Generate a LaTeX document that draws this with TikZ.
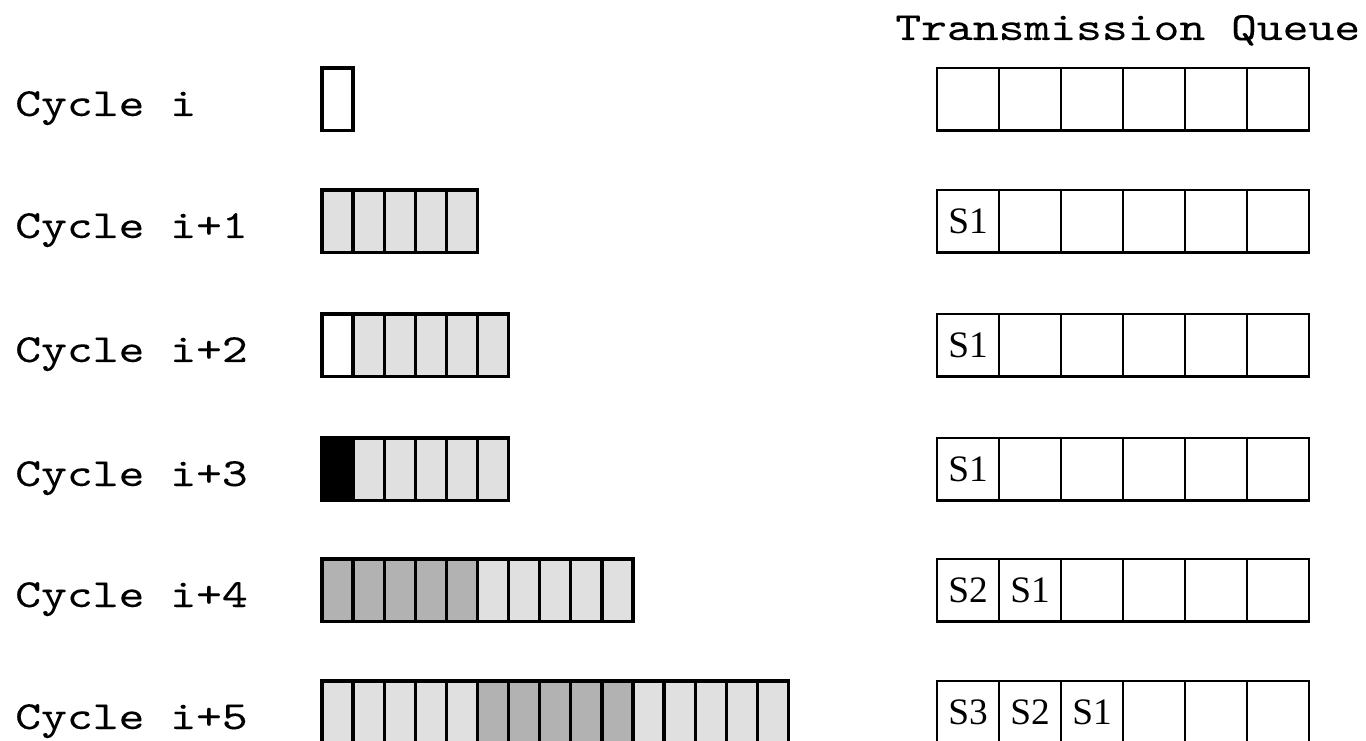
\documentclass[tikz,border=0pt]{standalone}
\usepackage{fontspec}
\setmainfont{Liberation Serif}
\newfontfamily\cyclefont{lmmono10-regular.otf}[FakeStretch=1.23,FakeBold=0.1]
\definecolor{lt}{gray}{0.88}
\definecolor{dk}{gray}{0.70}
\begin{document}
\begin{tikzpicture}[x=0.75pt,y=-0.75pt,
  slot/.style={inner sep=0pt, outer sep=0pt,
    anchor=north west, minimum width=23.3pt, minimum height=47pt},
  slotedge/.style={line width=2.4pt},
  qslot/.style={inner sep=0pt, outer sep=0pt,
    anchor=north west, minimum width=46.5pt, minimum height=47pt},
  qedge/.style={line width=1.9pt},
  rowlabel/.style={font=\cyclefont\fontsize{30}{30}\selectfont, anchor=base west, inner sep=0pt},
  qlabel/.style={font=\fontsize{28}{28}\selectfont, inner sep=0pt}]
  \useasboundingbox (0,0) rectangle (1366,741);
  \clip (0,0) rectangle (1366,741);

  % header above the queues
  \node[rowlabel] (title) at (895,40) {Transmission Queue};

  % one row per cycle: label, slot buffer and transmission queue
  \foreach \r/\top/\lab/\fills in {
      1/68/{i}/{white},
      2/190/{i+1}/{lt,lt,lt,lt,lt},
      3/314/{i+2}/{white,lt,lt,lt,lt,lt},
      4/438/{i+3}/{black,lt,lt,lt,lt,lt},
      5/559/{i+4}/{dk,dk,dk,dk,dk,lt,lt,lt,lt,lt},
      6/681/{i+5}/{lt,lt,lt,lt,lt,dk,dk,dk,dk,dk,lt,lt,lt,lt,lt}}{
    \node[rowlabel] (C\r) at (15,\top+48) {Cycle \lab};
    % filled slots first, outlines on top so no fill covers a border
    \foreach \f [count=\c] in \fills {
      \node[slot, fill=\f] (L\r-\c) at ({322+(\c-1)*31.1},\top) {};
    }
    \foreach \f [count=\c] in \fills {
      \draw[slotedge] (L\r-\c.north west) rectangle (L\r-\c.south east);
    }
    \foreach \c in {1,...,6} {
      \node[qslot] (Q\r-\c) at ({937+(\c-1)*62},\top) {};
      \draw[qedge] (Q\r-\c.north west) rectangle (Q\r-\c.south east);
    }
  }

  % packets waiting in the queues
  \node[qlabel] (S2-1) at (Q2-1) {S1};
  \node[qlabel] (S3-1) at (Q3-1) {S1};
  \node[qlabel] (S4-1) at (Q4-1) {S1};
  \node[qlabel] (S5-1) at (Q5-1) {S2};
  \node[qlabel] (S5-2) at (Q5-2) {S1};
  \node[qlabel] (S6-1) at (Q6-1) {S3};
  \node[qlabel] (S6-2) at (Q6-2) {S2};
  \node[qlabel] (S6-3) at (Q6-3) {S1};
\end{tikzpicture}
\end{document}
